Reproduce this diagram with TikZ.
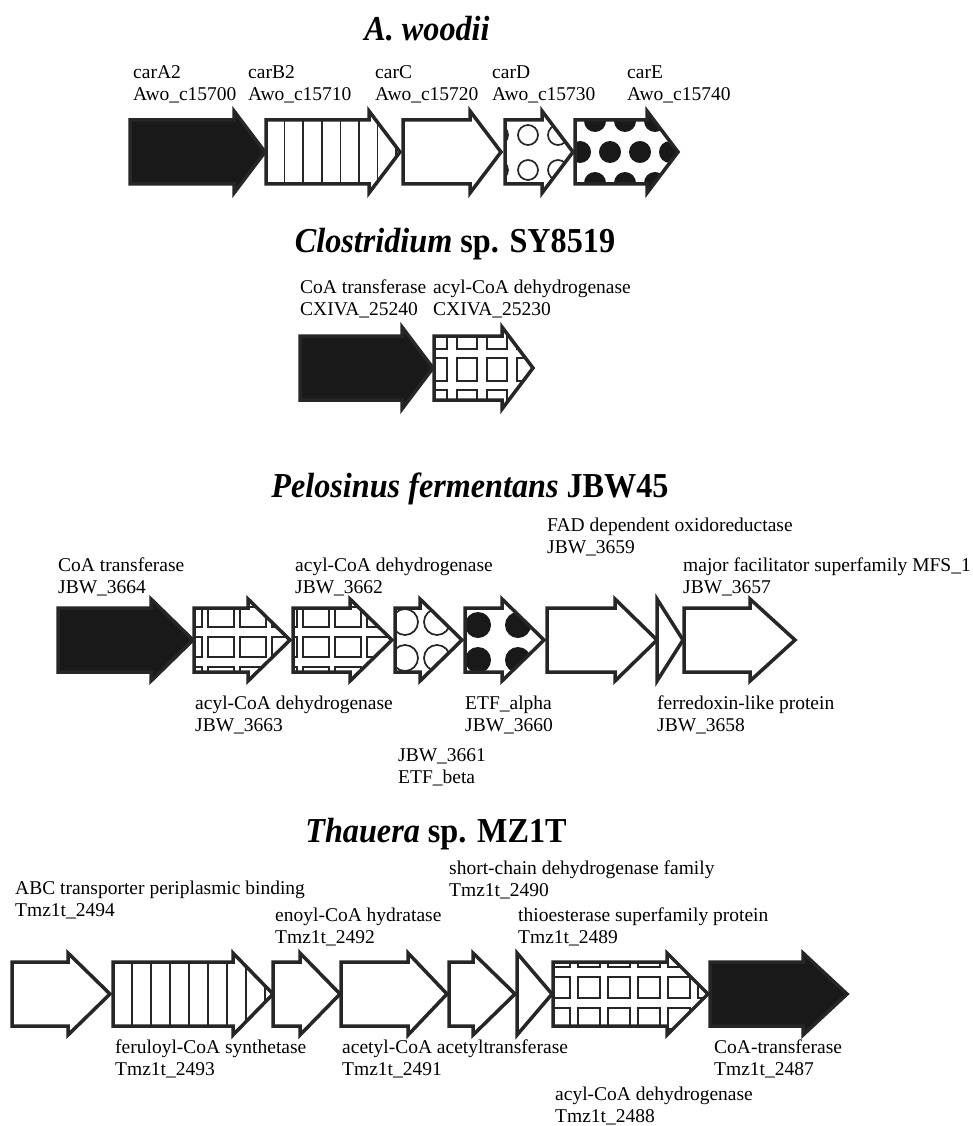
\documentclass[tikz,border=0pt]{standalone}
\usepackage{fontspec}
\setmainfont{Liberation Serif}
\newfontfamily\titlefont{Liberation Serif}[FakeStretch=0.92]
\begin{document}
\tikzset{
  lbl/.style={anchor=base west, inner sep=0pt, font=\fontsize{19.5}{22}\selectfont},
  ttl/.style={anchor=base, inner sep=0pt, font=\titlefont\fontsize{35}{40}\selectfont\bfseries},
  gene/.style={draw=black!85, line width=3.5pt, line join=miter},
  stripe/.style={line width=1.6pt, draw=black!85},
  circ/.style={line width=1.7pt, draw=black!85},
  sq/.style={line width=2.2pt, draw=black!85},
  blob/.style={fill=black!90},
}
\newcommand\gpath[4]{(#1,{#3-32}) -- ({#2-#4},{#3-32}) -- ({#2-#4},{#3-41}) -- (#2,#3) -- ({#2-#4},{#3+41}) -- ({#2-#4},{#3+32}) -- (#1,{#3+32}) -- cycle}
% x0 x1 yc head fillcolor patterncode
\newcommand\gene[6]{%
  \fill[#5] \gpath{#1}{#2}{#3}{#4};
  \begin{scope}\clip \gpath{#1}{#2}{#3}{#4}; #6 \end{scope}
  \draw[gene] \gpath{#1}{#2}{#3}{#4};}
\newcommand\tri[3]{\draw[gene, fill=white] (#1,{#3-41}) -- (#2,#3) -- (#1,{#3+41}) -- cycle;}
\newcommand\lab[5]{%
  \node[lbl] (#1a) at (#2,#3) {#4};
  \node[lbl] (#1b) at (#2,{#3+22}) {#5};}
\begin{tikzpicture}[x=1pt,y=-1pt]
\useasboundingbox (0,0) rectangle (972,1126);
\fill[white] (0,0) rectangle (972,1126);

% ---------------- A. woodii ----------------
\node[ttl] (t1) at (427,41) {\itshape A. woodii};
\lab{a1}{133}{79}{carA2}{Awo\_c15700}
\lab{a2}{248}{79}{carB2}{Awo\_c15710}
\lab{a3}{375}{79}{carC}{Awo\_c15720}
\lab{a4}{492}{79}{carD}{Awo\_c15730}
\lab{a5}{627}{79}{carE}{Awo\_c15740}
\gene{130}{265}{152}{31}{black!90}{}
\gene{266}{400}{152}{31}{white}{\foreach \k in {1,...,7} \draw[stripe] ({266+18.6*\k},100) -- ++(0,110);}
\gene{403}{501}{152}{31}{white}{}
\gene{505}{573}{152}{31}{white}{\foreach \cx in {498,528,558} \foreach \cy in {135,170} \draw[circ] (\cx,\cy) circle[radius=10];}
\gene{575}{678}{152}{31}{white}{%
  \foreach \cx in {580,610,640,670} \fill[blob] (\cx,152) circle[radius=11];
  \foreach \cx in {595,625,655} {\fill[blob] (\cx,121) circle[radius=11]; \fill[blob] (\cx,183) circle[radius=11];}}

% ---------------- Clostridium ----------------
\node[ttl] (t2) at (455,252) {{\itshape Clostridium} sp. SY8519};
\lab{b1}{300}{293}{CoA transferase}{CXIVA\_25240}
\lab{b2}{433}{293}{acyl-CoA dehydrogenase}{CXIVA\_25230}
\gene{300}{433}{368}{31}{black!90}{}
\gene{434}{533}{368}{31}{white}{\foreach \cx in {427,457,487,517} \foreach \cy in {326,358,390} \draw[sq] (\cx,\cy) rectangle ++(20,23);}

% ---------------- Pelosinus ----------------
\node[ttl] (t3) at (470,497) {{\itshape Pelosinus fermentans} JBW45};
\lab{c1}{547}{531}{FAD dependent oxidoreductase}{JBW\_3659}
\lab{c2}{58}{571}{CoA transferase}{JBW\_3664}
\lab{c3}{295}{571}{acyl-CoA dehydrogenase}{JBW\_3662}
\lab{c4}{683}{571}{major facilitator superfamily MFS\_1}{JBW\_3657}
\lab{c5}{195}{709}{acyl-CoA dehydrogenase}{JBW\_3663}
\lab{c6}{465}{709}{ETF\_alpha}{JBW\_3660}
\lab{c7}{657}{709}{ferredoxin-like protein}{JBW\_3658}
\lab{c8}{398}{761}{JBW\_3661}{ETF\_beta}
\gene{58}{193}{640}{42}{black!90}{}
\gene{194}{290}{640}{42}{white}{\foreach \cx in {176,208,240,272} \foreach \cy in {607,637,667} \draw[sq] (\cx,\cy) rectangle ++(26,20);}
\gene{293}{392}{640}{42}{white}{\foreach \cx in {271,303,335,367} \foreach \cy in {607,637,667} \draw[sq] (\cx,\cy) rectangle ++(26,20);}
\gene{395}{462}{640}{42}{white}{\foreach \cx in {405,437} \foreach \cy in {622,658} \draw[circ] (\cx,\cy) circle[radius=13];}
\gene{465}{544}{640}{42}{white}{\foreach \cx in {478,518} \foreach \cy in {625,660} \fill[blob] (\cx,\cy) circle[radius=13];}
\gene{547}{657}{640}{42}{white}{}
\tri{657}{683}{640}
\gene{684}{795}{640}{45}{white}{}

% ---------------- Thauera ----------------
\node[ttl] (t4) at (436,842) {{\itshape Thauera} sp. MZ1T};
\lab{d1}{449}{874}{short-chain dehydrogenase family}{Tmz1t\_2490}
\lab{d2}{15}{894}{ABC transporter periplasmic binding}{Tmz1t\_2494}
\lab{d3}{275}{921}{enoyl-CoA hydratase}{Tmz1t\_2492}
\lab{d4}{518}{921}{thioesterase superfamily protein}{Tmz1t\_2489}
\lab{d5}{115}{1053}{feruloyl-CoA synthetase}{Tmz1t\_2493}
\lab{d6}{342}{1053}{acetyl-CoA acetyltransferase}{Tmz1t\_2491}
\lab{d7}{714}{1053}{CoA-transferase}{Tmz1t\_2487}
\lab{d8}{555}{1100}{acyl-CoA dehydrogenase}{Tmz1t\_2488}
\gene{12}{110}{994}{42}{white}{}
\gene{113}{273}{994}{40}{white}{\foreach \k in {1,...,8} \draw[stripe] ({113+19*\k},940) -- ++(0,110);}
\gene{273}{340}{994}{40}{white}{}
\gene{341}{447}{994}{39}{white}{}
\gene{449}{515}{994}{42}{white}{}
\tri{517}{552}{994}
\gene{553}{708}{994}{41}{white}{\foreach \cx in {548,578,608,638,668,698} \foreach \cy in {946,977,1008,1039} \draw[sq] (\cx,\cy) rectangle ++(22,21);}
\gene{710}{847}{994}{44}{black!90}{}
\end{tikzpicture}
\end{document}
